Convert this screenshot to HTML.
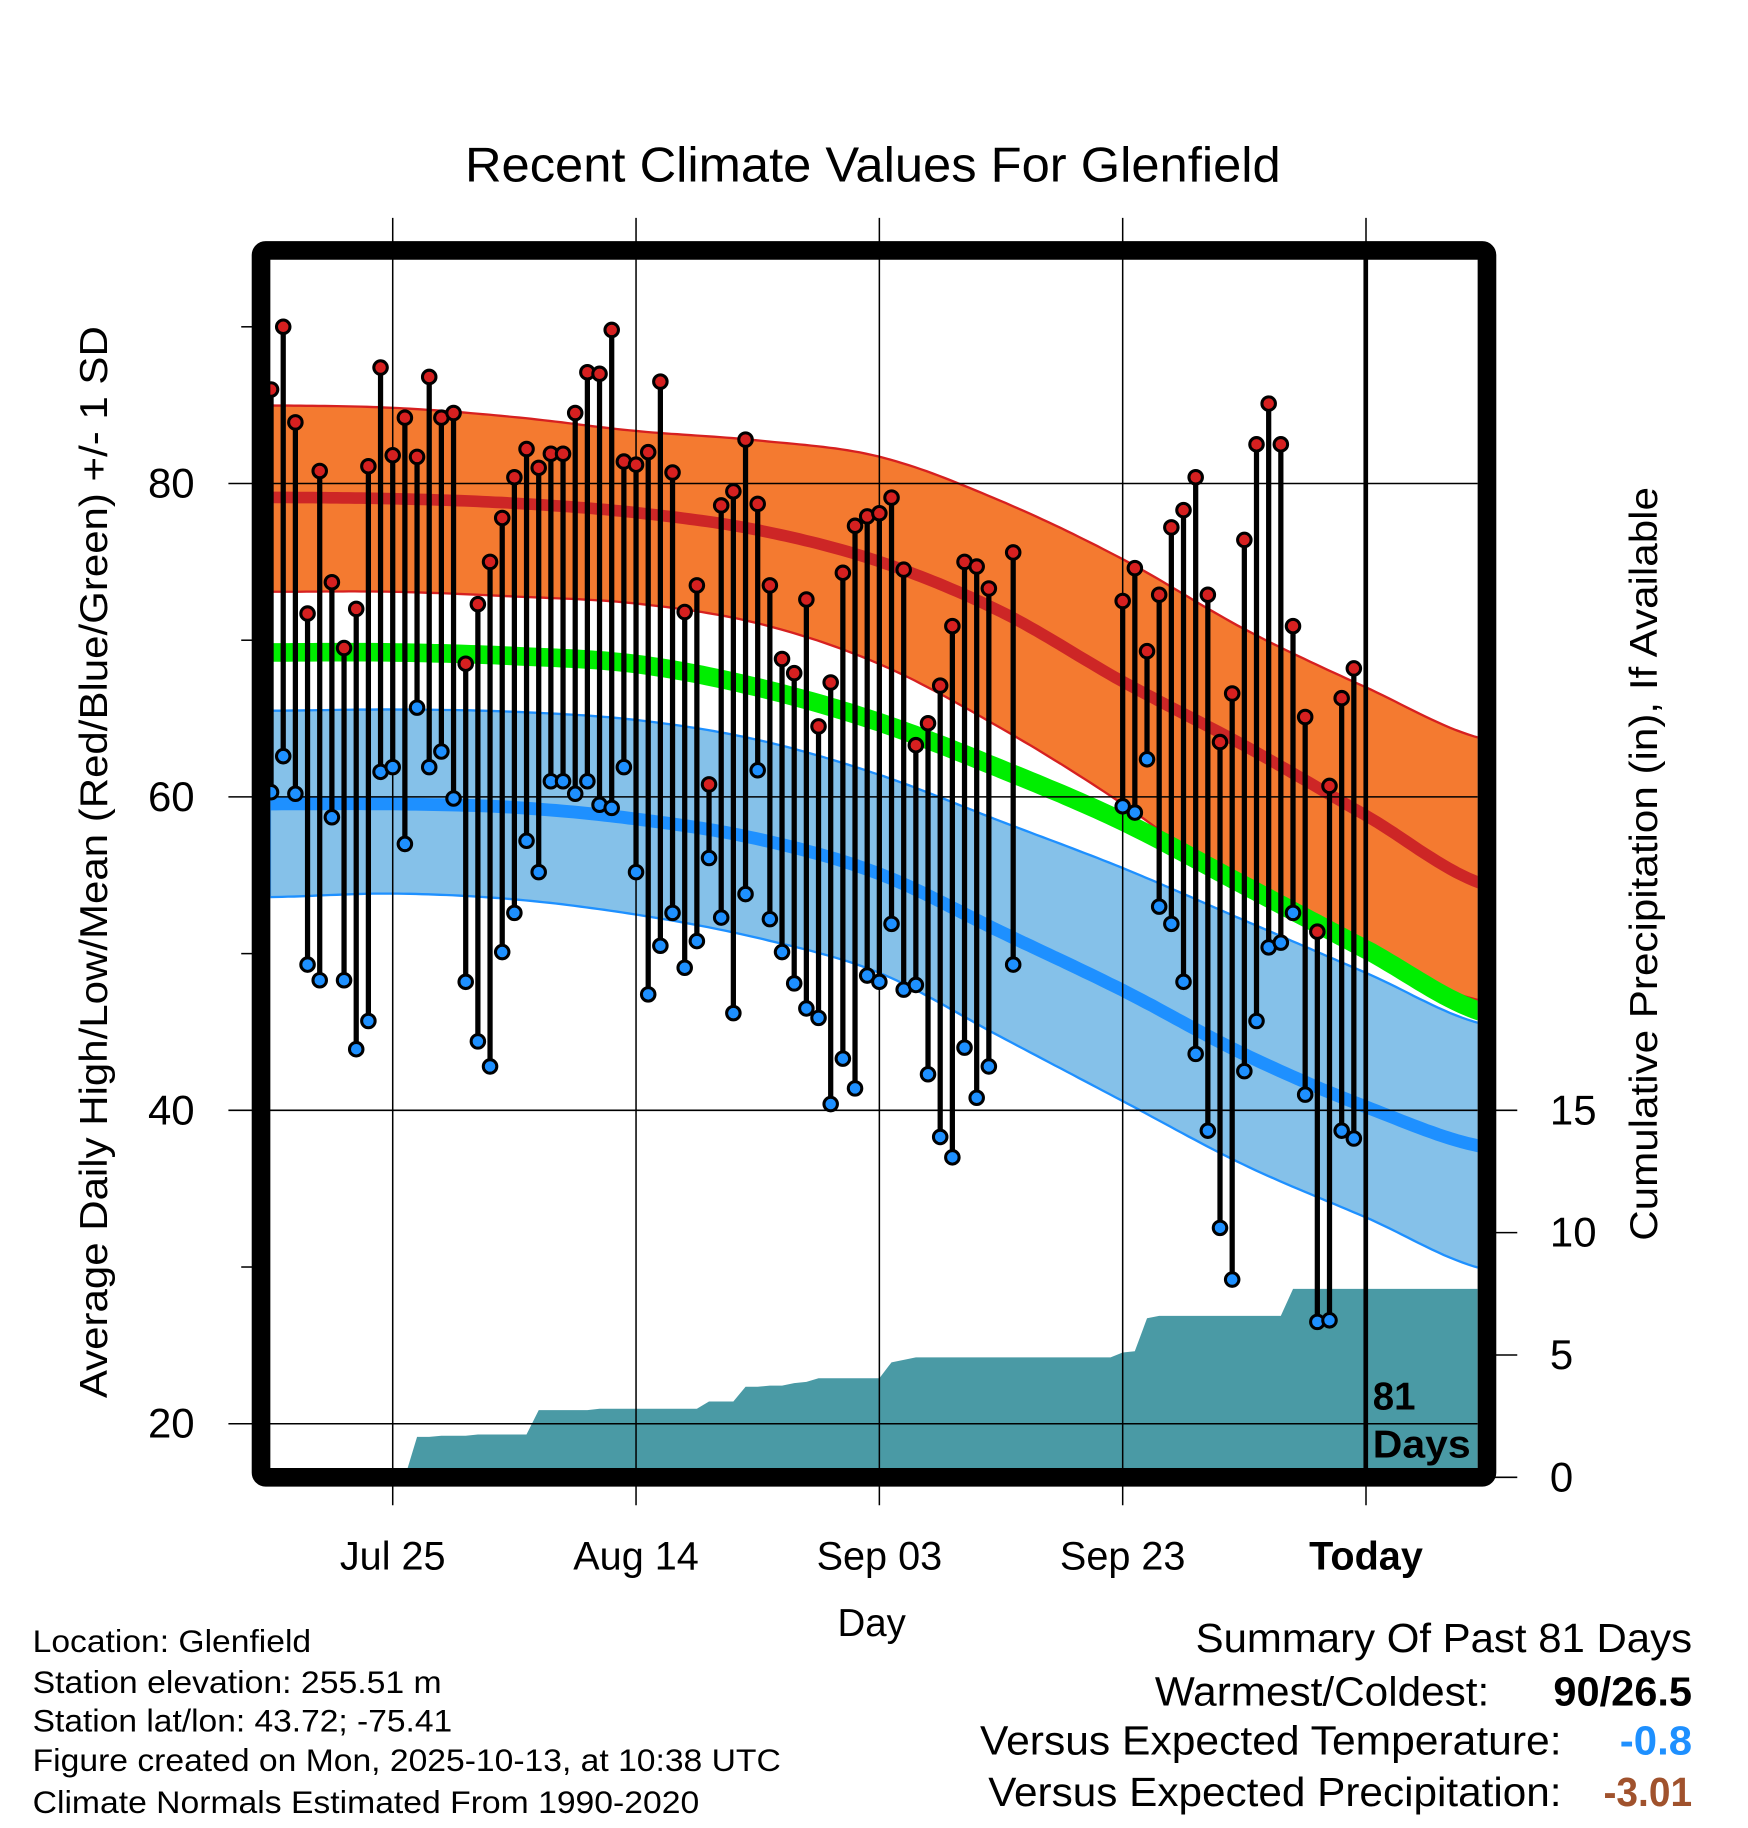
<!DOCTYPE html>
<html><head><meta charset="utf-8">
<style>
html,body{margin:0;padding:0;background:#fff;}
svg{display:block;font-family:"Liberation Sans",Arial,sans-serif;}
</style></head>
<body>
<svg id="chart" width="1748" height="1828" viewBox="0 0 1500 1569" preserveAspectRatio="none" xmlns="http://www.w3.org/2000/svg">
<rect x="0" y="0" width="1500" height="1569" fill="#fff"/>
<text x="399" y="156" font-size="42" textLength="700" lengthAdjust="spacingAndGlyphs">Recent Climate Values For Glenfield</text>
<g id="bands"></g>
<g id="precip"></g>
<g id="grid"></g>
<g id="points"></g>
<rect x="224" y="215" width="1052" height="1053" fill="none" stroke="#000" stroke-width="16" rx="4"/>
<line x1="1172" y1="222" x2="1172" y2="1260" stroke="#000" stroke-width="4"/>
<text x="1178" y="1210" font-size="33" font-weight="bold">81</text>
<text x="1178" y="1251" font-size="33" font-weight="bold" textLength="84" lengthAdjust="spacingAndGlyphs">Days</text>
<text transform="translate(92,1200) rotate(-90)" font-size="33" textLength="920" lengthAdjust="spacingAndGlyphs">Average Daily High/Low/Mean (Red/Blue/Green) +/- 1 SD</text>
<text transform="translate(1422,1065) rotate(-90)" font-size="33" textLength="647" lengthAdjust="spacingAndGlyphs">Cumulative Precipitation (in), If Available</text>
<text x="748" y="1404" text-anchor="middle" font-size="33">Day</text>
<g font-size="27">
<text x="28" y="1418" textLength="239" lengthAdjust="spacingAndGlyphs">Location: Glenfield</text>
<text x="28" y="1453" textLength="351" lengthAdjust="spacingAndGlyphs">Station elevation: 255.51 m</text>
<text x="28" y="1486" textLength="360" lengthAdjust="spacingAndGlyphs">Station lat/lon: 43.72; -75.41</text>
<text x="28" y="1520" textLength="642" lengthAdjust="spacingAndGlyphs">Figure created on Mon, 2025-10-13, at 10:38 UTC</text>
<text x="28" y="1556" textLength="572" lengthAdjust="spacingAndGlyphs">Climate Normals Estimated From 1990-2020</text>
</g>
<g font-size="35">
<text x="1026" y="1418" textLength="426" lengthAdjust="spacingAndGlyphs">Summary Of Past 81 Days</text>
<text x="991" y="1464" textLength="287" lengthAdjust="spacingAndGlyphs">Warmest/Coldest:</text>
<text x="1333" y="1464" font-weight="bold" textLength="119" lengthAdjust="spacingAndGlyphs">90/26.5</text>
<text x="841" y="1506" textLength="499" lengthAdjust="spacingAndGlyphs">Versus Expected Temperature:</text>
<text x="1390" y="1506" font-weight="bold" fill="#1e90ff" textLength="62" lengthAdjust="spacingAndGlyphs">-0.8</text>
<text x="848" y="1550" textLength="492" lengthAdjust="spacingAndGlyphs">Versus Expected Precipitation:</text>
<text x="1376" y="1550" font-weight="bold" fill="#a0522d" textLength="76" lengthAdjust="spacingAndGlyphs">-3.01</text>
</g>
</svg>
<script>
// Normals sampled every 10 days from Jul 15 (day 0)
const normalDays = [0,10,20,30,40,50,60,70,80,90,100];
const highTop  = [84.98,84.83,84.24,83.35,82.75,81.71,78.88,75.17,70.71,66.99,63.64];
const highMean = [79.11,79.03,78.74,78.14,77.03,75.02,71.82,67.36,63.27,58.81,54.35];
const highBot  = [73.09,73.09,72.79,72.34,71.08,68.48,64.39,59.55,53.98,49.89,46.91];
const avgMean  = [69.22,69.22,68.99,68.48,66.99,64.76,61.78,58.44,54.35,50.26,46.17];
const lowTop   = [65.50,65.58,65.43,64.91,63.64,61.41,58.44,55.46,52.12,48.77,45.43];
const lowMean  = [59.55,59.55,59.33,58.59,57.32,55.09,51.38,47.66,43.57,40.22,37.62];
const lowBot   = [53.61,53.83,53.46,52.49,51.00,48.77,44.68,40.59,36.51,33.16,29.81];

const obsDays = [0,1,2,3,4,5,6,7,8,9,10,11,12,13,14,15,16,17,18,19,20,21,22,23,24,25,26,27,28,29,30,31,32,33,34,35,36,37,38,39,40,41,42,43,44,45,46,47,48,49,50,51,52,53,54,55,56,57,58,59,61,70,71,72,73,74,75,76,77,78,79,80,81,82,83,84,85,86,87,88,89];
const obsHigh = [86.0,90.0,83.9,71.7,80.8,73.7,69.5,72.0,81.1,87.4,81.8,84.2,81.7,86.8,84.2,84.5,68.5,72.3,75.0,77.8,80.4,82.2,81.0,81.9,81.9,84.5,87.1,87.0,89.8,81.4,81.2,82.0,86.5,80.7,71.8,73.5,60.8,78.6,79.5,82.8,78.7,73.5,68.8,67.9,72.6,64.5,67.3,74.3,77.3,77.9,78.1,79.1,74.5,63.3,64.7,67.1,70.9,75.0,74.7,73.3,75.6,72.5,74.6,69.3,72.9,77.2,78.3,80.4,72.9,63.5,66.6,76.4,82.5,85.1,82.5,70.9,65.1,51.4,60.7,66.3,68.2];
const obsLow = [60.3,62.6,60.2,49.3,48.3,58.7,48.3,43.9,45.7,61.6,61.9,57.0,65.7,61.9,62.9,59.9,48.2,44.4,42.8,50.1,52.6,57.2,55.2,61.0,61.0,60.2,61.0,59.5,59.3,61.9,55.2,47.4,50.5,52.6,49.1,50.8,56.1,52.3,46.2,53.8,61.7,52.2,50.1,48.1,46.5,45.9,40.4,43.3,41.4,48.6,48.2,51.9,47.7,48.0,42.3,38.3,37.0,44.0,40.8,42.8,49.3,59.4,59.0,62.4,53.0,51.9,48.2,43.6,38.7,32.5,29.2,42.5,45.7,50.4,50.7,52.6,41.0,26.5,26.6,38.7,38.2];

// cumulative precipitation (in), day 0..99
const precipCum = [0,0,0,0,0,0,0,0,0,0,0,0,1.65,1.65,1.7,1.7,1.7,1.75,1.75,1.75,1.75,1.75,2.75,2.75,2.75,2.75,2.75,2.8,2.8,2.8,2.8,2.8,2.8,2.8,2.8,2.8,3.1,3.1,3.1,3.7,3.7,3.75,3.75,3.85,3.9,4.05,4.05,4.05,4.05,4.05,4.05,4.7,4.8,4.9,4.9,4.9,4.9,4.9,4.9,4.9,4.9,4.9,4.9,4.9,4.9,4.9,4.9,4.9,4.9,4.9,5.1,5.15,6.5,6.6,6.6,6.6,6.6,6.6,6.6,6.6,6.6,6.6,6.6,6.6,7.7,7.7,7.7,7.7,7.7,7.7,7.7,7.7,7.7,7.7,7.7,7.7,7.7,7.7,7.7,7.7];

const yTicks = [20,40,60,80];
const yMinor = [30,50,70,90];
const pTicks = [0,5,10,15];
const xTickDays = [10,30,50,70,90];
const xTickLabels = ["Jul 25","Aug 14","Sep 03","Sep 23","Today"];

const NS = "http://www.w3.org/2000/svg";
const X0 = 232.6, DX = 10.44, XL = 232, XR = 1268;
function xs(d){ return X0 + d*DX; }
function ys(v){ return 415 + (80 - v)*13.45; }
function yp(p){ return 1268 - p*21; }
function mk(tag, attrs, parent){ const e=document.createElementNS(NS,tag); for(const k in attrs) e.setAttribute(k,attrs[k]); parent.appendChild(e); return e; }
// Catmull-Rom smooth interpolation
function interp(arr, d){
  const n = normalDays.length;
  let i = Math.floor(d/10);
  i = Math.max(0, Math.min(i, n-2));
  const t = (d - normalDays[i])/(normalDays[i+1]-normalDays[i]);
  const p0 = arr[Math.max(0,i-1)], p1 = arr[i], p2 = arr[i+1], p3 = arr[Math.min(n-1,i+2)];
  const t2=t*t, t3=t2*t;
  return 0.5*((2*p1) + (-p0+p2)*t + (2*p0-5*p1+4*p2-p3)*t2 + (-p0+3*p1-3*p2+p3)*t3);
}
function sampleDays(){ const a=[]; for(let d=-0.1; d<=99.4; d+=0.5) a.push(d); return a; }
function linePts(arr){ return sampleDays().map(d=>xs(d).toFixed(1)+","+ys(interp(arr,d)).toFixed(1)).join(" "); }
function bandPts(top, bot){
  const ds = sampleDays();
  const a = ds.map(d=>xs(d).toFixed(1)+","+ys(interp(top,d)).toFixed(1));
  const b = ds.slice().reverse().map(d=>xs(d).toFixed(1)+","+ys(interp(bot,d)).toFixed(1));
  return a.concat(b).join(" ");
}
const bands = document.getElementById("bands");
const defs = mk("defs",{},document.getElementById("chart"));
const clip = mk("clipPath",{id:"plotclip"},defs);
mk("rect",{x:XL,y:222,width:XR-XL,height:1038},clip);
const bg = mk("g",{"clip-path":"url(#plotclip)"},bands);

let e;
e = mk("polygon",{points:bandPts(lowTop,lowBot),fill:"#85c1e9",stroke:"#1e90ff","stroke-width":2},bg);


e = mk("polygon",{points:bandPts(highTop,highBot),fill:"#f47a30",stroke:"#d62020","stroke-width":2},bg);


e = mk("polyline",{points:linePts(avgMean),fill:"none",stroke:"#00ee00","stroke-width":16},bg);


e = mk("polyline",{points:linePts(highMean),fill:"none",stroke:"#cd2626","stroke-width":10},bg);


e = mk("polyline",{points:linePts(lowMean),fill:"none",stroke:"#1e90ff","stroke-width":11},bg);



// precipitation area
const pg = document.getElementById("precip");
let pp = [xs(0)+","+yp(0)];
precipCum.forEach((p,d)=>{ pp.push(xs(d).toFixed(1)+","+yp(p).toFixed(1)); });
pp.push(XR+","+yp(precipCum[precipCum.length-1]).toFixed(1));
pp.push(XR+","+yp(0));
e = mk("polygon",{points:pp.join(" "),fill:"#4a9aa5","clip-path":"url(#plotclip)"},pg);



// grid + ticks
const gg = document.getElementById("grid");
yTicks.forEach(v=>{
  e = mk("line",{x1:196,x2:XR,y1:ys(v),y2:ys(v),stroke:"#000","stroke-width":1.3},gg);
  
  
  e = mk("text",{x:167,y:ys(v)+12,"text-anchor":"end","font-size":36},gg);
  e.textContent = v;
  
  
});
yMinor.forEach(v=>{
  e = mk("line",{x1:207,x2:217,y1:ys(v),y2:ys(v),stroke:"#000","stroke-width":1.3},gg);
  
  
});
pTicks.forEach(p=>{
  e = mk("line",{x1:1276,x2:1302,y1:yp(p),y2:yp(p),stroke:"#000","stroke-width":1.3},gg);
  
  
  e = mk("text",{x:1330,y:yp(p)+12,"font-size":36},gg);
  e.textContent = p;
  
  
});
xTickDays.forEach((d,i)=>{
  e = mk("line",{x1:xs(d),x2:xs(d),y1:187,y2:1292,stroke:"#000","stroke-width":1.3},gg);
  
  
  e = mk("text",{x:xs(d),y:1347,"text-anchor":"middle","font-size":34,"font-weight":i===4?"bold":"normal"},gg);
  e.textContent = xTickLabels[i];
  
  
});

// observed highs/lows
const ptg = document.getElementById("points");
obsDays.forEach((d,i)=>{
  const x = xs(d);
  e = mk("line",{x1:x,x2:x,y1:ys(obsHigh[i]),y2:ys(obsLow[i]),stroke:"#000","stroke-width":4.5},ptg);
  
  
});
obsDays.forEach((d,i)=>{
  const x = xs(d);
  e = mk("circle",{cx:x,cy:ys(obsHigh[i]),r:5.8,fill:"#d62020",stroke:"#000","stroke-width":2.6},ptg);
  
  
  e = mk("circle",{cx:x,cy:ys(obsLow[i]),r:5.8,fill:"#1e90ff",stroke:"#000","stroke-width":2.6},ptg);
  
  
});
</script>
</body></html>
